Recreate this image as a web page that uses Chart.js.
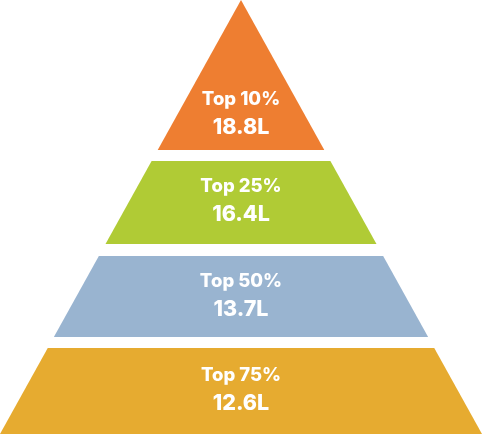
<!DOCTYPE html>
<html>
<head>
<meta charset="utf-8">
<script src="https://cdn.jsdelivr.net/npm/chart.js@4"></script>
<style>
  html, body { margin: 0; padding: 0; background: #fff; }
  #wrap { width: 482px; height: 434px; }
</style>
</head>
<body>
<div id="wrap"><canvas id="pyramid" width="482" height="434"></canvas></div>
<script>
// tiers, top to bottom
const categories = ['Top 10%', 'Top 25%', 'Top 50%', 'Top 75%'];
const values     = [18.8, 16.4, 13.7, 12.6];
const unit       = 'L';
const colors     = ['#ee7e31', '#b0cb35', '#99b4d0', '#e6ab30'];

// layout: band top/bottom edges (pyramid height units, apex = 0, base = 434)
const PYR_H = 434;
const PYR_HALF = 241;
const bandEdges = [[0, 150], [161, 244], [256, 337], [348, 434]];
const labelY    = [114, 201, 296, 390];

const halfAt = y => PYR_HALF * y / PYR_H;

const datasets = categories.map((c, i) => {
  const [top, bot] = bandEdges[i];
  return {
    label: c,
    data: [
      { x: -halfAt(top), y: top },
      { x:  halfAt(top), y: top },
      { x:  halfAt(bot), y: bot },
      { x: -halfAt(bot), y: bot },
      { x: -halfAt(top), y: top },
    ],
    showLine: true,
    fill: 'shape',
    backgroundColor: colors[i],
    borderColor: colors[i],
    borderWidth: 0,
    pointRadius: 0,
    tension: 0,
  };
});

const tierLabels = {
  id: 'tierLabels',
  afterDatasetsDraw(chart) {
    const { ctx, scales: { x, y } } = chart;
    ctx.save();
    ctx.fillStyle = '#fff';
    ctx.textAlign = 'center';
    ctx.textBaseline = 'middle';
    categories.forEach((c, i) => {
      const cx = x.getPixelForValue(0);
      const cy = y.getPixelForValue(labelY[i]);
      ctx.font = '800 18.5px Inter, "Open Sans", sans-serif';
      ctx.fillText(c, cx, cy - 15);
      ctx.font = '800 21.5px Inter, "Open Sans", sans-serif';
      ctx.fillText(values[i].toFixed(1) + unit, cx, cy + 14);
    });
    ctx.restore();
  },
};

new Chart(document.getElementById('pyramid'), {
  type: 'scatter',
  data: { datasets },
  options: {
    responsive: false,
    animation: false,
    layout: { padding: 0 },
    plugins: { legend: { display: false }, tooltip: { enabled: false } },
    scales: {
      x: { type: 'linear', min: -PYR_HALF, max: PYR_HALF, display: false },
      y: { type: 'linear', min: 0, max: PYR_H, reverse: true, display: false },
    },
  },
  plugins: [tierLabels],
});
</script>
</body>
</html>
